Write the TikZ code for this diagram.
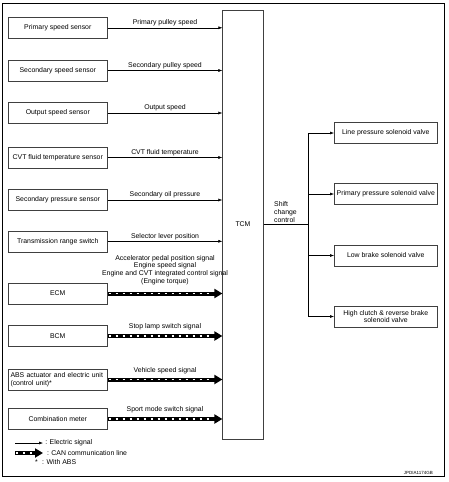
\documentclass[tikz,border=0pt]{standalone}
\usepackage{fontspec}
\setmainfont{Liberation Sans}
\usetikzlibrary{arrows.meta}
\begin{document}
\begin{tikzpicture}[x=1pt,y=-1pt, font=\fontsize{6.9}{7.8}\selectfont,
 box/.style={draw=black!75, line width=0.6pt, minimum width=99pt, minimum height=21pt, inner sep=1pt, anchor=west},
 rbox/.style={draw=black!75, line width=0.6pt, minimum width=103pt, minimum height=21pt, inner sep=1pt, anchor=west, align=center},
 elec/.style={-{Latex[length=4pt,width=3pt]}, line width=0.5pt},
 can/.style={line width=4pt, black, -{Triangle[length=8pt,width=9pt]},
   postaction={draw=white, line width=1.8pt, dash pattern=on 2pt off 5pt, -, shorten >=9pt, shorten <=1pt}},
 lbl/.style={above, inner sep=1.5pt},
]
\useasboundingbox (0,0) rectangle (449,482);
\draw[line width=1.2pt] (2.5,3.3) rectangle (444.5,476.7);

% TCM
\node[draw=black!75, line width=0.6pt, minimum width=40.6pt, minimum height=429pt, inner sep=0pt] (tcm) at (243,224.5) {TCM};

% input boxes
\node[box] (ps)  at (8,27.8)  {Primary speed sensor};
\node[box] (ss)  at (8,70.5)  {Secondary speed sensor};
\node[box] (os)  at (8,113)   {Output speed sensor};
\node[box] (cvt) at (8,157.5) {CVT fluid temperature sensor};
\node[box] (sp)  at (8,200)   {Secondary pressure sensor};
\node[box] (tr)  at (8,241.3) {Transmission range switch};
\node[box] (ecm) at (8,293.5) {ECM};
\node[box] (bcm) at (8,336)   {BCM};
\node[box, align=left, text width=94.6pt, inner sep=2.2pt] (abs) at (8,379.5) {ABS actuator and electric unit\\(control unit)*};
\node[box] (cm)  at (8,419)   {Combination meter};

% electric inputs
\draw[elec] (ps.east)  -- (ps.east -| tcm.west)  node[lbl, midway] {Primary pulley speed};
\draw[elec] (ss.east)  -- (ss.east -| tcm.west)  node[lbl, midway] {Secondary pulley speed};
\draw[elec] (os.east)  -- (os.east -| tcm.west)  node[lbl, midway] {Output speed};
\draw[elec] (cvt.east) -- (cvt.east -| tcm.west) node[lbl, midway] {CVT fluid temperature};
\draw[elec] (sp.east)  -- (sp.east -| tcm.west)  node[lbl, midway] {Secondary oil pressure};
\draw[elec] (tr.east)  -- (tr.east -| tcm.west)  node[lbl, midway] {Selector lever position};

% CAN inputs
\draw[can] (ecm.east) -- (ecm.east -| tcm.west) node[lbl, midway, align=center, yshift=5pt] {Accelerator pedal position signal\\Engine speed signal\\Engine and CVT integrated control signal\\(Engine torque)};
\draw[can] (bcm.east) -- (bcm.east -| tcm.west) node[lbl, midway, yshift=2.5pt] {Stop lamp switch signal};
\draw[can] (abs.east) -- (abs.east -| tcm.west) node[lbl, midway, yshift=2.5pt] {Vehicle speed signal};
\draw[can] (cm.east)  -- (cm.east -| tcm.west)  node[lbl, midway, yshift=2.5pt] {Sport mode switch signal};

% outputs
\node[rbox] (lp) at (334,133)   {Line pressure solenoid valve};
\node[rbox] (pp) at (334,194)   {Primary pressure solenoid valve};
\node[rbox] (lb) at (334,255.5) {Low brake solenoid valve};
\node[rbox] (hc) at (334,316.5) {High clutch \& reverse brake\\solenoid valve};

\coordinate (bus) at (308,224.5);
\coordinate (bustop) at (308,133);
\coordinate (busbot) at (308,316.5);
\draw[line width=0.5pt] (tcm.east) -- (bus);
\draw[line width=0.5pt] (bustop) -- (busbot);
\draw[elec] (bustop) -- (lp.west);
\draw[elec] (pp.west -| bus) -- (pp.west);
\draw[elec] (lb.west -| bus) -- (lb.west);
\draw[elec] (busbot) -- (hc.west);
\node[anchor=south west, align=left, inner sep=1pt] (scc) at (273,223.5) {Shift\\change\\control};

% legend
\coordinate (l1a) at (15,443);
\coordinate (l1b) at (43,443);
\coordinate (l2a) at (15,453);
\coordinate (l2b) at (43,453);
\draw[elec] (l1a) -- (l1b) node[right, inner sep=2pt] (t1) {: Electric signal};
\draw[can] (l2a) -- (l2b) node[right, inner sep=2pt] (t2) {: CAN communication line};
\node[anchor=west, inner sep=0pt] (t3s) at (35,462.5) {*};
\node[anchor=west, inner sep=2pt] (t3) at (40,462.5) {: With ABS};

\node[anchor=east, inner sep=0pt, font=\fontsize{4.5}{5}\selectfont] (code) at (433,472.7) {JPDIA1174GB};
\end{tikzpicture}
\end{document}
